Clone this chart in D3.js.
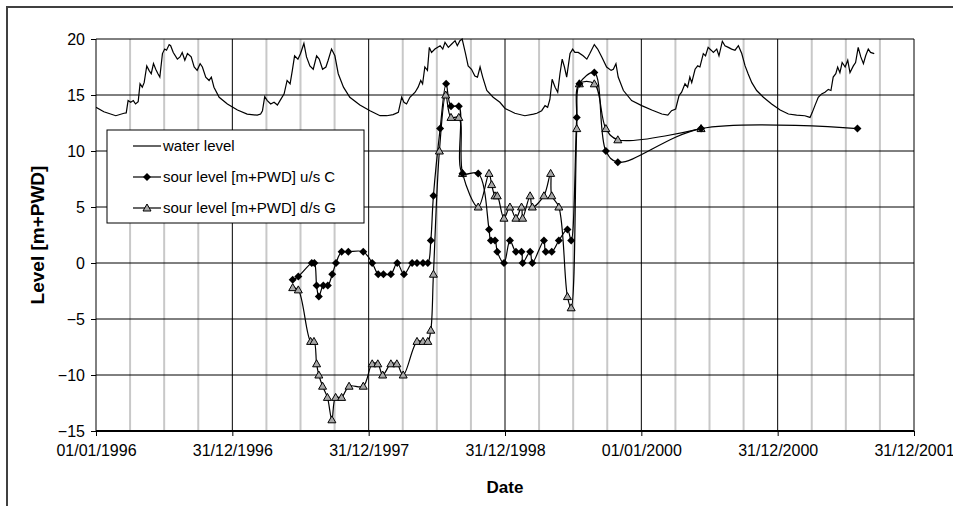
<!DOCTYPE html>
<meta charset="utf-8">
<style>
body { margin: 0; background: #fff; }
text { font-family: Arial, "Liberation Sans", sans-serif; fill: #000; }
.grid-minor { stroke: #c8c8c8; stroke-width: 2; }
.grid-major { stroke: #000; stroke-width: 1; }
.axis text { font-size: 16px; }
.axis line { stroke: #000; }
.axis path { display: none; }
</style>
<svg width="953" height="506"></svg>
<script src="https://d3js.org/d3.v7.min.js"></script>
<script>
// all dates are days counted from 01/01/1996
var wlDay = [0,21,53,75,81,86,93,100,106,113,
  118,124,129,136,142,148,154,160,166,171,
  178,184,189,196,200,207,218,225,231,238,
  245,255,263,271,279,285,294,303,309,316,
  330,352,379,405,432,441,446,452,459,468,
  477,486,493,504,512,520,526,532,541,548,
  557,564,573,582,591,598,607,616,622,631,
  640,649,663,680,707,734,761,779,796,810,
  819,825,832,841,855,863,870,875,881,888,
  893,899,908,922,929,935,944,953,962,968,
  975,981,990,997,1006,1015,1022,1029,1036,1047,
  1064,1082,1096,1122,1149,1172,1181,1194,1203,1210,
  1216,1222,1230,1237,1243,1249,1255,1261,1270,1277,
  1283,1292,1305,1315,1323,1335,1344,1355,1368,1380,
  1386,1393,1399,1413,1435,1462,1489,1516,1532,1542,
  1553,1562,1569,1578,1585,1591,1596,1605,1612,1618,
  1627,1633,1640,1648,1654,1663,1669,1678,1685,1694,
  1703,1712,1721,1730,1739,1747,1757,1770,1788,1810,
  1833,1855,1877,1899,1913,1919,1926,1935,1944,1953,
  1962,1969,1975,1982,1987,1993,1999,2007,2014,2020,
  2029,2035,2042,2049,2056,2062,2069,2075,2085];
var wlLevel = [13.9,13.5,13.15,13.37,13.4,14.5,14.35,14.5,14.2,14.4,
  16.0,15.7,16.1,17.6,17.2,16.9,17.8,17.3,16.9,16.6,
  18.7,19.1,19.0,19.5,19.4,18.8,18.2,18.4,18.8,18.1,
  18.7,18.4,17.5,17.2,17.8,17.5,16.6,16.3,16.6,15.7,
  14.8,14.2,13.66,13.3,13.2,13.3,13.6,14.85,14.5,14.2,
  14.35,14.1,14.5,15.1,16.3,16.0,17.2,18.5,18.2,18.7,
  19.6,18.4,17.6,17.3,18.5,18.2,17.3,17.5,18.1,19.1,
  18.5,16.9,15.7,14.8,14.1,13.6,13.15,13.15,13.25,13.45,
  14.8,14.35,14.2,14.8,15.25,15.7,16.3,16.0,17.5,17.2,
  19.25,18.8,19.1,19.4,19.1,19.7,19.25,19.55,19.85,19.4,
  19.85,20.0,18.7,17.6,17.3,16.7,16.6,17.5,16.6,15.4,
  14.8,14.35,13.8,13.37,13.15,13.3,13.37,13.6,14.05,13.9,
  14.6,16.4,15.7,15.25,16.9,18.2,17.5,16.6,18.7,19.1,
  18.8,18.8,18.5,18.2,18.7,19.5,19.1,18.4,17.5,17.2,
  17.3,17.8,16.6,15.4,14.5,14.05,13.66,13.3,13.2,13.6,
  13.75,14.95,15.25,16.0,15.7,16.6,16.1,17.3,17.6,17.5,
  18.7,18.5,19.25,19.0,18.8,19.1,18.5,19.8,19.4,19.25,
  19.1,19.0,19.4,18.7,17.6,16.9,16.1,15.4,14.8,14.2,
  13.66,13.3,13.2,13.15,13.0,13.45,14.05,14.8,15.1,15.25,
  15.5,15.4,16.6,16.9,17.5,17.0,17.9,17.5,18.1,17.0,
  17.6,17.9,19.25,18.4,17.8,18.5,19.1,18.8,18.7];

// sour level u/s C
var usDay = [527,542,578,585,591,597,609,621,633,643,
  658,676,716,740,756,770,790,807,825,847,
  860,876,889,897,904,922,938,951,972,982,
  1024,1053,1058,1069,1075,1093,1109,1125,1140,1143,
  1163,1169,1200,1205,1221,1240,1263,1273,1288,1295,
  1335,1366,1398,1621,2040];
var usLevel = [-1.5,-1.2,0,0,-2,-3,-2,-2,-1,0,
  1,1,1,0,-1,-1,-1,0,-1,0,
  0,0,0,2,6,12,16,14,14,8,
  8,3,2,2,1,0,2,1,1,0,
  1,0,2,1,1,2,3,2,13,16,
  17,10,9,12,12];

// sour level d/s G
var dsDay = [527,542,575,584,591,597,607,620,632,642,
  658,678,716,740,755,768,790,806,823,860,
  876,889,897,904,920,937,951,972,982,1024,
  1053,1060,1069,1075,1093,1109,1125,1140,1143,1163,
  1169,1200,1218,1221,1240,1263,1273,1288,1295,1335,
  1366,1398,1621];
var dsLevel = [-2.2,-2.4,-7,-7,-9,-10,-11,-12,-14,-12,
  -12,-11,-11,-9,-9,-10,-9,-9,-10,-7,
  -7,-7,-6,-1,10,15,13,13,8,5,
  8,7,6,6,4,5,4,5,4,6,
  5,6,8,6,5,-3,-4,12,16,16,
  12,11,12];

var yTicks = [-15,-10,-5,0,5,10,15,20];
var xTickLabels = ["01/01/1996","31/12/1996","31/12/1997","31/12/1998","01/01/2000","31/12/2000","31/12/2001"];
var seriesNames = ["water level","sour level [m+PWD] u/s C","sour level [m+PWD] d/s G"];

var svg = d3.select("svg");
var yearStep = 365.25;
var x = d3.scaleLinear().domain([0, 6 * yearStep]).range([96, 914]);
var y = d3.scaleLinear().domain([-15, 20]).range([431, 39]);

// outer chart frame (cropped on right / bottom)
svg.append("path").attr("d", "M7,506V7H953").attr("fill", "none")
  .attr("stroke", "#404040").attr("stroke-width", 2);

// minor vertical gridlines (quarter years)
var minor = d3.range(1, 24).filter(function(i) { return i % 4; });
svg.append("g").selectAll("line").data(minor).enter().append("line")
  .attr("class", "grid-minor")
  .attr("x1", function(d) { return x(d * yearStep / 4); })
  .attr("x2", function(d) { return x(d * yearStep / 4); })
  .attr("y1", y(20)).attr("y2", y(-15));

var majorX = d3.range(0, 7).map(function(i) { return i * yearStep; });
svg.append("g").selectAll("line").data(majorX).enter().append("line")
  .attr("class", "grid-major")
  .attr("x1", function(d) { return x(d); }).attr("x2", function(d) { return x(d); })
  .attr("y1", y(20)).attr("y2", y(-15));
svg.append("g").selectAll("line").data(yTicks).enter().append("line")
  .attr("class", "grid-major")
  .attr("x1", x(0)).attr("x2", x(6 * yearStep))
  .attr("y1", function(d) { return y(d); }).attr("y2", function(d) { return y(d); });
// bottom axis line
svg.append("line").attr("x1", x(0)).attr("x2", x(6 * yearStep))
  .attr("y1", y(-15)).attr("y2", y(-15)).attr("stroke", "#000").attr("stroke-width", 2);

svg.append("g").attr("class", "axis").attr("transform", "translate(" + x(0) + ",0)")
  .call(d3.axisLeft(y).tickValues(yTicks).tickSize(5).tickPadding(6));
svg.append("g").attr("class", "axis").attr("transform", "translate(0," + y(-15) + ")")
  .call(d3.axisBottom(x).tickValues(majorX).tickSize(5).tickPadding(9)
    .tickFormat(function(d, i) { return xTickLabels[i]; }));

svg.append("text").attr("x", 505).attr("y", 493).attr("text-anchor", "middle")
  .style("font-size", "17px").style("font-weight", "bold").text("Date");
svg.append("text").attr("transform", "translate(44,235) rotate(-90)").attr("text-anchor", "middle")
  .style("font-size", "19px").style("font-weight", "bold").text("Level [m+PWD]");

// data
svg.append("clipPath").attr("id", "plot").append("rect")
  .attr("x", x(0)).attr("y", y(20) - 1).attr("width", x(6 * yearStep) - x(0)).attr("height", y(-15) - y(20) + 1);
var plot = svg.append("g").attr("clip-path", "url(#plot)");

function pts(days, vals) { return days.map(function(d, i) { return [d, vals[i]]; }); }
var wl = pts(wlDay, wlLevel), us = pts(usDay, usLevel), ds = pts(dsDay, dsLevel);

var lineLin = d3.line().x(function(d) { return x(d[0]); }).y(function(d) { return y(d[1]); });
var lineSmooth = d3.line().x(function(d) { return x(d[0]); }).y(function(d) { return y(d[1]); })
  .curve(d3.curveCatmullRom.alpha(0.5));

plot.append("path").datum(wl).attr("d", lineLin).attr("fill", "none").attr("stroke", "#000").attr("stroke-width", 1.2);
plot.append("path").datum(ds).attr("d", lineSmooth).attr("fill", "none").attr("stroke", "#000").attr("stroke-width", 1.2);
plot.append("path").datum(us).attr("d", lineSmooth).attr("fill", "none").attr("stroke", "#000").attr("stroke-width", 1.2);

var diamond = "M0,-4L4,0L0,4L-4,0Z";
var triangle = "M0,-4L4,3L-4,3Z";
plot.append("g").selectAll("path").data(ds).enter().append("path")
  .attr("d", triangle).attr("fill", "#a8a8a8").attr("stroke", "#000").attr("stroke-width", 1)
  .attr("transform", function(d) { return "translate(" + x(d[0]) + "," + y(d[1]) + ")"; });
plot.append("g").selectAll("path").data(us).enter().append("path")
  .attr("d", diamond).attr("fill", "#000")
  .attr("transform", function(d) { return "translate(" + x(d[0]) + "," + y(d[1]) + ")"; });

// legend
var lg = svg.append("g").attr("transform", "translate(107,130)");
lg.append("rect").attr("width", 257).attr("height", 93).attr("fill", "#fff").attr("stroke", "#000");
var items = lg.selectAll("g").data(seriesNames).enter().append("g")
  .attr("transform", function(d, i) { return "translate(0," + (16 + i * 31) + ")"; });
items.append("line").attr("x1", 26).attr("x2", 54).attr("stroke", "#000").attr("stroke-width", 1.2);
items.append("text").attr("x", 56).attr("dy", "0.35em").style("font-size", "15px").text(function(d) { return d; });
items.filter(function(d, i) { return i === 1; }).append("path").attr("d", diamond).attr("fill", "#000")
  .attr("transform", "translate(40,0)");
items.filter(function(d, i) { return i === 2; }).append("path").attr("d", triangle)
  .attr("fill", "#a8a8a8").attr("stroke", "#000").attr("transform", "translate(40,0)");
</script>
